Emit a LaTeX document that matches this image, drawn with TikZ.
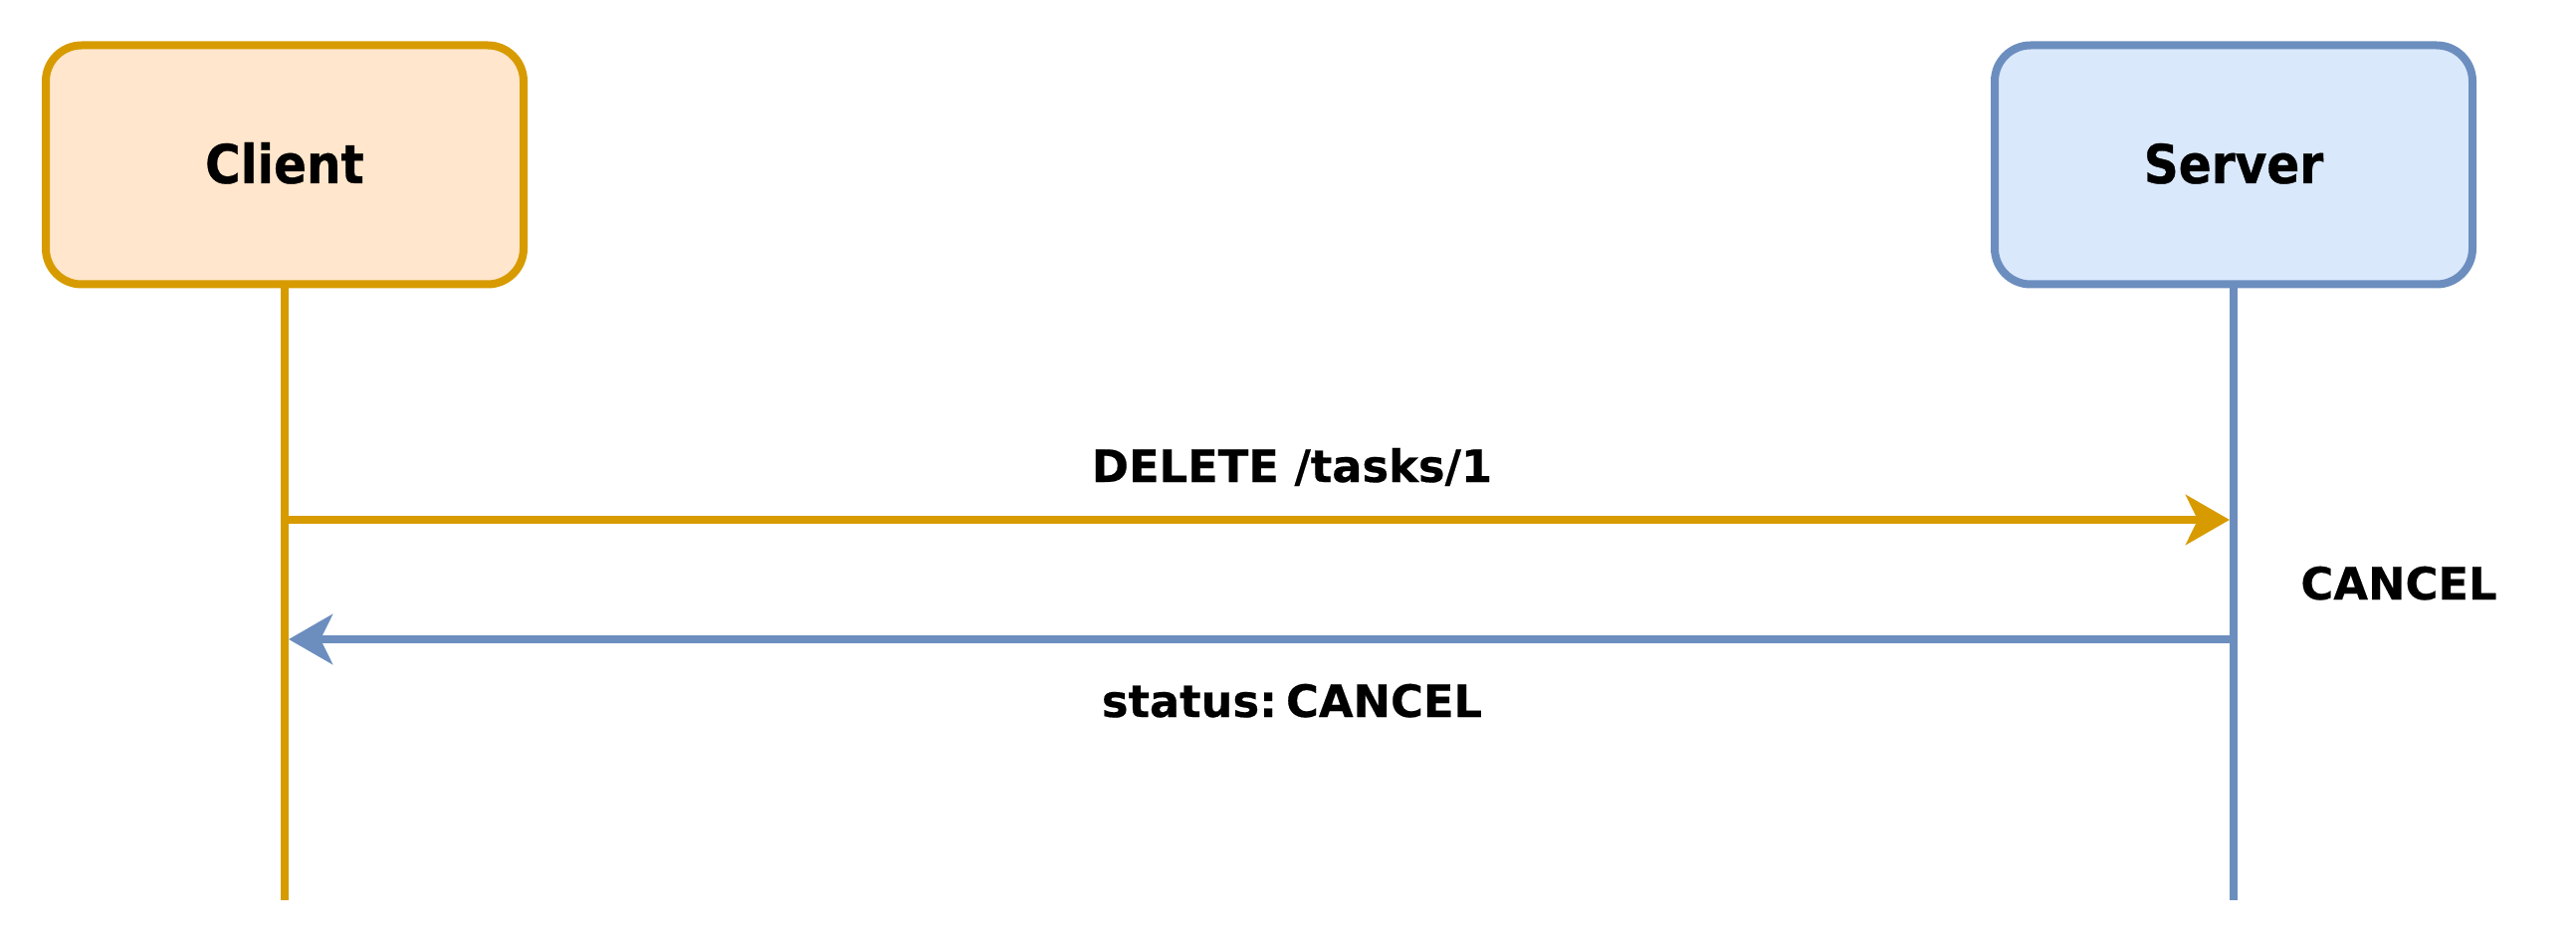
\documentclass[tikz,border=0pt]{standalone}
\usepackage{fontspec}
\newfontfamily\boxfont{DejaVu Sans Condensed Bold}[FakeBold=0.6]
\newfontfamily\msgfont{DejaVu Sans Bold}[FakeBold=0.4]
\usetikzlibrary{arrows.meta}
\definecolor{cstroke}{HTML}{D79B00}
\definecolor{cfill}{HTML}{FFE6CC}
\definecolor{sstroke}{HTML}{6C8EBF}
\definecolor{sfill}{HTML}{DAE8FC}
\begin{document}
\begin{tikzpicture}[x=0.5pt,y=-0.5pt,
  actor/.style={rounded corners=18pt, line width=4pt, minimum width=240pt, minimum height=120pt, outer sep=0pt, inner sep=0pt},
  actorlbl/.style={font=\boxfont\fontsize{27}{32}\selectfont, inner sep=0pt, anchor=base},
  lifeline/.style={line width=4pt},
  msg/.style={line width=4pt, -{Stealth[length=22pt, width=25pt, inset=6pt]}},
  lbl/.style={font=\msgfont\fontsize{22.4}{27}\selectfont, inner sep=0pt, anchor=base}]
\useasboundingbox (0,0) rectangle (2588,952);
\node[actor, draw=cstroke, fill=cfill] (client) at (286,165.5) {};
\node[actor, draw=sstroke, fill=sfill] (server) at (2244,165.5) {};
\node[actorlbl] (clientlbl) at (286,184) {Client};
\node[actorlbl] (serverlbl) at (2244,184) {Server};
\coordinate (cend) at (286,904);
\coordinate (send) at (2244,904);
\draw[lifeline, cstroke] (client.south) -- (cend);
\draw[lifeline, sstroke] (server.south) -- (send);
\coordinate (c1) at (286,522);
\coordinate (s1) at (2244,522);
\coordinate (c2) at (286,642);
\coordinate (s2) at (2244,642);
\draw[msg, cstroke, shorten >=2pt] (c1) -- (s1);
\draw[msg, sstroke, shorten >=2pt] (s2) -- (c2);
\node[lbl] (req) at (1298,484) {DELETE /tasks/1};
\node[lbl] (resp) at (1298,720) {status:\hskip0.2em CANCEL};
\node[lbl] (state) at (2410,602) {CANCEL};
\end{tikzpicture}
\end{document}
